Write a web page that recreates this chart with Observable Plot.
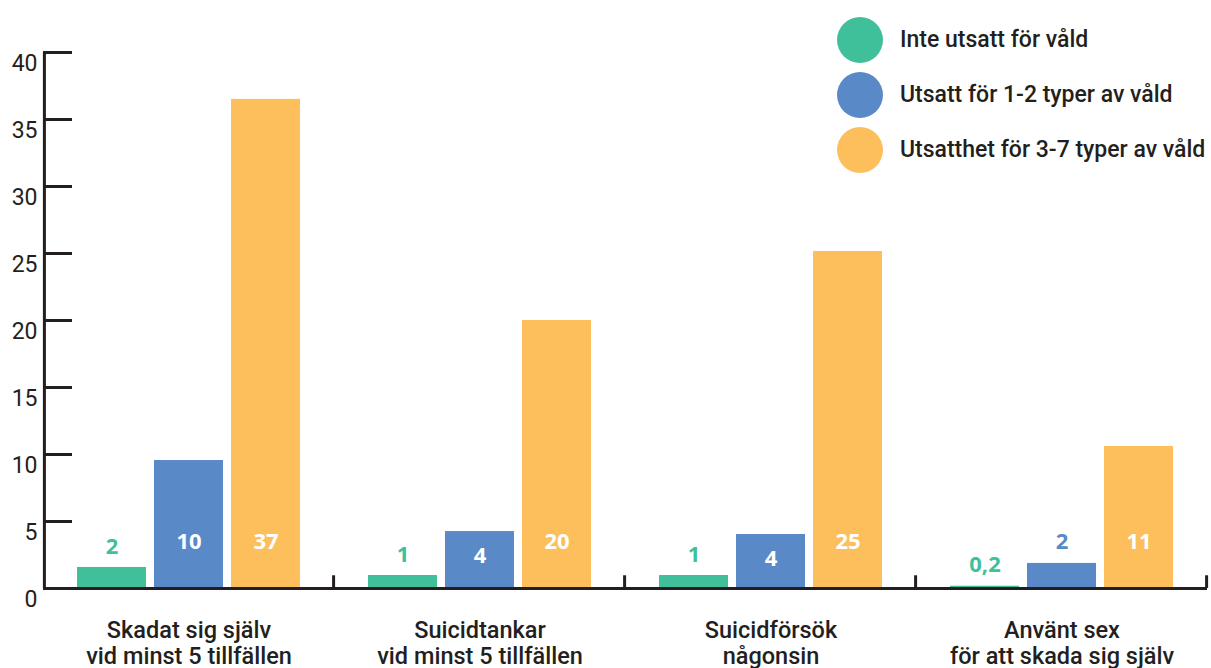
<!DOCTYPE html>
<html>
<head>
<meta charset="utf-8">
<script src="https://cdn.jsdelivr.net/npm/d3@7"></script>
<script src="https://cdn.jsdelivr.net/npm/@observablehq/plot@0.6"></script>
<style>
  html, body { margin: 0; padding: 0; background: #fff; }
  #wrap { position: relative; width: 1211px; height: 668px; overflow: hidden; }
  #legend { position: absolute; left: 837px; top: 12px; font-family: Roboto, sans-serif; font-size: 23px; font-weight: 500; color: #231f20; }
  .item { display: flex; align-items: center; height: 55px; }
  .sw { width: 46px; height: 46px; border-radius: 50%; margin-right: 17px; flex: none; }
</style>
</head>
<body>
<div id="wrap"><div id="legend"></div></div>
<script>
const categories = ["Skadat sig själv\nvid minst 5 tillfällen", "Suicidtankar\nvid minst 5 tillfällen", "Suicidförsök\nnågonsin", "Använt sex\nför att skada sig själv"];
const series = ["Inte utsatt för våld", "Utsatt för 1-2 typer av våld", "Utsatthet för 3-7 typer av våld"];
const colors = ["#40bf9b", "#5a89c8", "#fdbf5c"];
const valuesNone = [1.57, 0.97, 0.97, 0.17];
const values12 = [9.55, 4.25, 4.03, 1.87];
const values37 = [36.5, 20.0, 25.15, 10.6];
const labelsNone = ["2", "1", "1", "0,2"];
const labels12 = ["10", "4", "4", "2"];
const labels37 = ["37", "20", "25", "11"];
const yTicks = [0, 5, 10, 15, 20, 25, 30, 35, 40];

const seriesValues = [valuesNone, values12, values37];
const seriesLabels = [labelsNone, labels12, labels37];
const data = [];
categories.forEach((c, i) => series.forEach((s, j) => data.push({cat: c, series: s, si: j, value: seriesValues[j][i], label: seriesLabels[j][i]})));
const outside = data.filter(d => d.si === 0 || d.value < 3);
const inside = data.filter(d => !(d.si === 0 || d.value < 3));
const ink = "#231f20";

const plot = Plot.plot({
  width: 1211, height: 668,
  marginTop: 52, marginBottom: 80, marginLeft: 42, marginRight: 4,
  style: {fontFamily: "Roboto, sans-serif", color: ink, background: "transparent"},
  fx: {domain: categories, padding: 0, axis: null},
  x: {domain: series, paddingInner: 8 / 78, paddingOuter: 0.418, axis: null},
  y: {domain: [0, 40], axis: null},
  color: {domain: series, range: colors},
  marks: [
    Plot.barY(data, {fx: "cat", x: "series", y: "value", fill: "series"}),
    Plot.ruleY([0], {stroke: ink, strokeWidth: 3}),
    Plot.ruleX(categories.map(c => ({cat: c, s: series[2]})), {fx: "cat", x: "s", y1: 0, y2: 0.95, dx: 67.6, stroke: ink, strokeWidth: 3}),
    Plot.ruleX([{cat: categories[0], s: series[0]}], {fx: "cat", x: "s", y1: 0, y2: 40, dx: -67.6, stroke: ink, strokeWidth: 3}),
    Plot.axisY({ticks: yTicks, tickSize: -29, strokeWidth: 3, stroke: ink, fill: "none", label: null}),
    Plot.axisY({ticks: yTicks, tickSize: 0, tickPadding: 6, dy: 11, fontSize: 23, fill: ink, label: null}),
    Plot.text(outside, {fx: "cat", x: "series", y: "value", text: "label", dy: -21, fill: "series", fontSize: 22, fontWeight: 700, fontFamily: "Open Sans"}),
    Plot.text(inside, {fx: "cat", x: "series", y: d => Math.min(d.value - 1.85, 3.5), text: "label", fill: "white", fontSize: 22, fontWeight: 700, fontFamily: "Open Sans"}),
    Plot.text(categories, {fx: d => d, text: d => d, frameAnchor: "bottom", lineAnchor: "middle", dy: 54, lineHeight: 1.12, fontSize: 23.5, fill: ink, fontWeight: 500})
  ]
});
document.getElementById("wrap").prepend(plot);
const legend = document.getElementById("legend");
series.forEach((s, j) => {
  const it = document.createElement("div");
  it.className = "item";
  const sw = document.createElement("div");
  sw.className = "sw";
  sw.style.background = colors[j];
  const t = document.createElement("span");
  t.textContent = s;
  it.append(sw, t);
  legend.append(it);
});
</script>
</body>
</html>
